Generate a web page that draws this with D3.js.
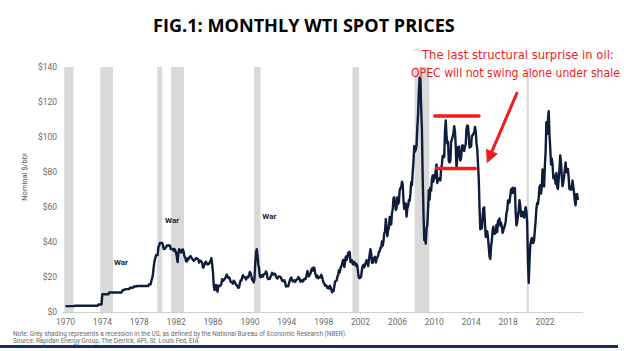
<!DOCTYPE html>
<html>
<head>
<meta charset="utf-8">
<script src="https://cdn.jsdelivr.net/npm/d3@7"></script>
<style>
  body { margin: 0; background: #fff; }
  svg { display: block; }
  .tick-label { font-family: Roboto, "Liberation Sans", sans-serif; fill: #6b6b6b; }
</style>
</head>
<body>
<script>
const w = 624;
const h = 351;

// monthly WTI, $/bbl, Jan..Dec per row
const prices1970s = [
  3.35,3.35,3.35,3.35,3.35,3.35,3.35,3.35,3.35,3.35,3.35,3.35,
  3.56,3.56,3.56,3.56,3.56,3.56,3.56,3.56,3.56,3.56,3.56,3.56,
  3.56,3.56,3.56,3.56,3.56,3.56,3.56,3.56,3.56,3.56,3.56,3.56,
  3.56,3.56,3.56,3.56,3.56,3.56,3.56,4.31,4.31,4.31,4.31,4.31,
  10.11,10.11,10.11,10.11,10.11,10.11,10.11,10.11,10.11,11.16,11.16,11.16,
  11.16,11.16,11.16,11.16,11.16,11.16,11.16,11.16,11.16,11.16,11.16,11.16,
  11.16,11.16,12.0,12.65,12.65,12.65,13.1,13.1,13.1,13.1,13.1,13.1,
  13.9,13.9,13.9,13.9,13.9,14.6,14.6,14.6,14.6,14.85,14.85,14.85,
  14.85,14.85,14.85,14.85,14.85,14.85,14.85,14.85,14.85,14.85,14.85,14.85,
  14.85,15.85,15.85,15.85,18.1,19.4,21.75,26.0,29.0,31.0,32.5,32.5
];
const prices1980s = [
  32.5,37.0,38.0,39.5,39.5,39.5,39.5,38.0,36.0,36.0,36.5,37.0,
  38.0,38.0,38.0,38.0,38.0,36.0,36.0,36.0,36.0,35.0,36.0,35.0,
  33.85,31.56,28.48,33.45,35.93,35.07,34.16,33.95,35.63,35.68,34.15,31.72,
  31.1,29.0,28.8,30.6,30.0,31.0,31.7,31.9,31.1,30.4,29.8,29.2,
  29.7,30.1,30.8,30.6,30.5,29.9,28.2,29.3,29.3,28.75,28.1,25.4,
  25.6,27.3,28.2,28.8,27.6,27.1,27.3,27.8,28.3,29.5,30.8,27.2,
  22.9,15.5,12.6,12.8,15.4,13.4,11.6,15.1,14.9,14.9,15.2,16.1,
  18.7,17.7,18.3,18.6,19.4,20.3,21.4,20.3,19.5,19.8,18.9,17.3,
  17.1,16.7,16.2,17.9,17.4,16.5,15.5,15.5,14.5,13.8,14.0,16.3,
  18.0,17.9,19.5,21.0,20.0,20.0,19.6,18.5,19.6,20.1,19.8,21.1
];
const prices1990s = [
  22.9,22.1,20.4,18.4,18.2,16.9,18.6,27.2,33.7,35.9,32.3,27.3,
  25.2,20.5,19.9,20.8,21.2,20.2,21.4,21.7,21.9,23.2,22.5,19.5,
  18.8,19.0,18.9,20.2,20.9,22.4,21.8,21.4,21.9,21.7,20.3,19.4,
  19.1,20.1,20.3,20.3,19.9,19.1,17.9,18.0,17.5,18.2,16.7,14.5,
  15.0,14.8,14.7,16.4,17.9,19.1,19.7,18.4,17.5,17.7,18.1,17.2,
  18.0,18.5,18.6,19.9,19.7,18.5,17.3,18.0,18.2,17.4,18.0,19.0,
  18.9,19.1,21.3,23.5,21.2,20.4,21.3,22.0,24.0,24.9,23.7,25.4,
  25.2,22.2,20.9,19.7,20.8,19.3,19.7,19.9,19.8,21.3,20.2,18.3,
  16.7,16.1,15.0,15.4,14.9,13.7,14.2,13.4,15.0,14.4,12.9,11.3,
  12.5,12.0,14.7,17.3,17.8,17.9,20.1,21.3,23.9,22.6,25.0,26.1
];
const prices2000s = [
  27.2,29.4,29.9,25.7,28.8,31.8,29.7,31.2,33.9,33.1,34.4,28.5,
  29.6,29.6,27.2,27.4,28.6,27.6,26.4,27.4,26.2,22.2,19.6,19.3,
  19.7,20.7,24.4,26.2,27.0,25.5,26.9,28.4,29.7,28.9,26.3,29.4,
  32.9,35.9,33.5,28.2,28.1,30.7,30.8,31.6,28.3,30.3,31.1,32.2,
  34.3,34.7,36.7,36.7,40.3,38.0,40.7,44.9,46.0,53.1,48.5,43.3,
  46.8,48.0,54.3,53.0,50.0,56.3,58.7,65.0,65.6,62.4,58.3,59.4,
  65.5,61.6,62.9,69.4,70.8,71.0,74.4,73.0,63.8,58.9,59.1,62.0,
  54.5,59.3,60.4,64.0,63.5,67.5,74.1,72.4,79.9,85.8,94.8,91.7,
  93.0,95.4,105.5,112.6,125.4,133.9,133.4,116.7,104.1,76.6,57.3,41.1,
  41.7,39.1,47.9,49.7,59.0,69.6,64.2,71.0,69.4,75.7,78.0,74.5
];
const prices2010s = [
  78.3,76.4,81.2,84.3,73.7,75.3,76.3,76.6,75.2,81.9,84.3,89.2,
  89.2,88.6,102.9,109.5,100.9,96.3,97.3,86.3,85.5,86.3,97.2,98.6,
  100.3,102.2,106.2,103.3,94.7,82.3,87.9,94.1,94.5,89.5,86.5,87.9,
  94.8,95.3,92.9,92.0,94.5,95.8,104.6,106.6,106.3,100.5,93.9,97.6,
  94.6,100.8,100.8,102.1,102.2,105.8,103.6,96.5,93.2,84.4,75.8,59.3,
  47.2,50.6,47.8,54.5,59.3,59.8,50.9,42.9,45.5,46.2,42.4,37.2,
  31.7,30.3,37.5,40.8,46.7,48.8,44.7,44.7,45.2,49.8,45.7,52.0,
  52.5,53.5,49.3,51.1,48.5,45.2,46.6,48.0,49.8,51.6,56.6,57.9,
  63.7,62.2,62.7,66.3,70.0,67.9,71.0,68.1,70.2,70.8,57.0,49.5,
  51.4,54.9,58.2,63.9,60.8,54.7,57.4,54.8,57.0,54.0,57.0,59.9
];
const prices2020s = [
  57.5,50.5,29.2,16.6,28.6,38.3,40.7,42.3,39.6,39.4,41.0,47.0,
  52.0,59.0,62.3,61.7,65.2,71.4,72.5,67.7,71.6,81.5,79.2,71.7,
  83.2,91.6,108.5,101.8,109.6,114.8,101.6,93.7,84.3,87.6,84.4,76.4,
  78.1,76.8,73.3,79.4,71.6,70.3,76.0,81.4,89.4,85.6,77.7,71.9,
  74.2,77.3,81.3,85.4,80.0,79.8,81.8,76.7,70.2,71.6,69.9,70.1,
  75.1,71.5,68.2,63.5,61.0,67.3,67.3,64.0
];
const firstYear = 1970;

// NBER recessions [start, end] as decimal years
const recessions = [
  [1969.92, 1970.92], [1973.83, 1975.2], [1980.0, 1980.55],
  [1981.5, 1982.9], [1990.5, 1991.2], [2001.17, 2001.9],
  [2007.92, 2009.5], [2020.08, 2020.3]
];
const xTicks = d3.range(1970, 2023, 4);
const yTicks = d3.range(0, 141, 20);
const warLabels = [
  { year: 1975.3, value: 27 },
  { year: 1980.85, value: 51 },
  { year: 1991.4, value: 53 }
];

const title = "FIG.1: MONTHLY WTI SPOT PRICES";
const note = "Note: Grey shading represents a recession in the US, as defined by the National Bureau of Economic Research (NBER).";
const source = "Source: Rapidan Energy Group, The Derrick, API, St. Louis Fed, EIA";
const callout = ["The last structural surprise in oil:", "OPEC will not swing alone under shale"];

const prices = [].concat(prices1970s, prices1980s, prices1990s, prices2000s, prices2010s, prices2020s);
const series = prices.map((v, i) => ({ t: firstYear + (i + 0.5) / 12, v: v }));

const svg = d3.select("body").append("svg").attr("width", w).attr("height", h);

const xScale = d3.scaleLinear().domain([1969.78, 2026.07]).range([63, 582]);
const yScale = d3.scaleLinear().domain([0, 140]).range([312, 67]);

// squeeze a text horizontally to a target width
const fitText = (sel, x, y, width) => {
  const natural = sel.node().getComputedTextLength();
  sel.attr("transform", `translate(${x}, ${y}) scale(${width / natural}, 1)`);
};

// recession shading
svg.append("g")
  .selectAll("rect")
  .data(recessions)
  .enter()
  .append("rect")
  .attr("x", (d) => xScale(d[0]))
  .attr("width", (d) => xScale(d[1]) - xScale(d[0]))
  .attr("y", yScale(140))
  .attr("height", yScale(0) - yScale(140))
  .attr("fill", "#d9d9d9");

// x axis
const xAxis = d3.axisBottom(xScale).tickValues(xTicks).tickFormat(d3.format("d")).tickSize(2).tickPadding(5);
const gx = svg.append("g").attr("transform", `translate(0, ${yScale(0)})`).call(xAxis);
gx.select(".domain").attr("stroke", "#cfcfcf");
gx.selectAll(".tick line").attr("stroke", "#cfcfcf");
gx.selectAll("text").attr("class", "tick-label").attr("font-size", 8.5);

// y axis
const yAxis = d3.axisLeft(yScale).tickValues(yTicks).tickFormat((d) => "$" + d).tickSize(0).tickPadding(6);
const gy = svg.append("g").attr("transform", `translate(63, 0)`).call(yAxis);
gy.select(".domain").remove();
gy.selectAll("text").attr("class", "tick-label").attr("font-size", 8.5);

svg.append("text")
  .attr("transform", "rotate(-90)")
  .attr("x", -177)
  .attr("y", 27)
  .attr("text-anchor", "middle")
  .attr("font-family", "Roboto, sans-serif")
  .attr("font-size", 7.5)
  .attr("fill", "#555")
  .text("Nominal $/bbl");

// price line
const line = d3.line().x((d) => xScale(d.t)).y((d) => yScale(d.v));
svg.append("path")
  .datum(series)
  .attr("d", line)
  .attr("fill", "none")
  .attr("stroke", "#0f1d3a")
  .attr("stroke-width", 2.4)
  .attr("stroke-linejoin", "round");

// war labels
svg.append("g")
  .selectAll("text")
  .data(warLabels)
  .enter()
  .append("text")
  .attr("x", (d) => xScale(d.year))
  .attr("y", (d) => yScale(d.value))
  .attr("font-family", "Roboto, sans-serif")
  .attr("font-weight", "bold")
  .attr("font-size", 8)
  .attr("fill", "#1c2436")
  .text("War");

// title
const titleText = svg.append("text")
  .attr("font-family", "'Open Sans', sans-serif")
  .attr("font-weight", "bold")
  .attr("font-size", 18)
  .attr("fill", "#000")
  .text(title);
fitText(titleText, 153, 32, 302);

// red callout
const red = "#f21c1c";
svg.append("line")
  .attr("x1", 413).attr("x2", 421).attr("y1", 50).attr("y2", 50)
  .attr("stroke", "#f7b8b8").attr("stroke-width", 1);
const call1 = svg.append("text")
  .attr("font-family", "'DejaVu Sans', sans-serif")
  .attr("font-size", 12)
  .attr("fill", red)
  .text(callout[0]);
fitText(call1, 422, 59, 192);
const call2 = svg.append("text")
  .attr("font-family", "'DejaVu Sans', sans-serif")
  .attr("font-size", 12)
  .attr("fill", red)
  .text(callout[1]);
fitText(call2, 411, 77, 209);

// range bars
svg.append("line")
  .attr("x1", xScale(2010.1)).attr("x2", xScale(2014.9))
  .attr("y1", yScale(112)).attr("y2", yScale(112))
  .attr("stroke", red).attr("stroke-width", 3.5).attr("stroke-linecap", "round");
svg.append("line")
  .attr("x1", xScale(2010.3)).attr("x2", xScale(2014.5))
  .attr("y1", yScale(82)).attr("y2", yScale(82))
  .attr("stroke", red).attr("stroke-width", 3.5).attr("stroke-linecap", "round");

// arrow
const ax0 = xScale(2019.0), ay0 = yScale(125);
const ax1 = xScale(2015.75), ay1 = yScale(85);
const ang = Math.atan2(ay1 - ay0, ax1 - ax0);
const headLen = 13, headW = 6.5;
const bx = ax1 - headLen * Math.cos(ang), by = ay1 - headLen * Math.sin(ang);
svg.append("line")
  .attr("x1", ax0).attr("y1", ay0).attr("x2", bx).attr("y2", by)
  .attr("stroke", red).attr("stroke-width", 3).attr("stroke-linecap", "round");
svg.append("polygon")
  .attr("points", [
    [ax1, ay1],
    [bx + headW * Math.sin(ang), by - headW * Math.cos(ang)],
    [bx - headW * Math.sin(ang), by + headW * Math.cos(ang)]
  ].map((p) => p.join(",")).join(" "))
  .attr("fill", red);

// footnotes
svg.append("text")
  .attr("x", 13).attr("y", 336)
  .attr("font-family", "Roboto, sans-serif")
  .attr("font-size", 6.4)
  .attr("fill", "#6b6b6b")
  .text(note);
svg.append("text")
  .attr("x", 13).attr("y", 342.5)
  .attr("font-family", "Roboto, sans-serif")
  .attr("font-size", 6.4)
  .attr("fill", "#6b6b6b")
  .text(source);

svg.append("rect")
  .attr("x", 0).attr("y", 345).attr("width", 618).attr("height", 3)
  .attr("fill", "#14305e");
</script>
</body>
</html>
